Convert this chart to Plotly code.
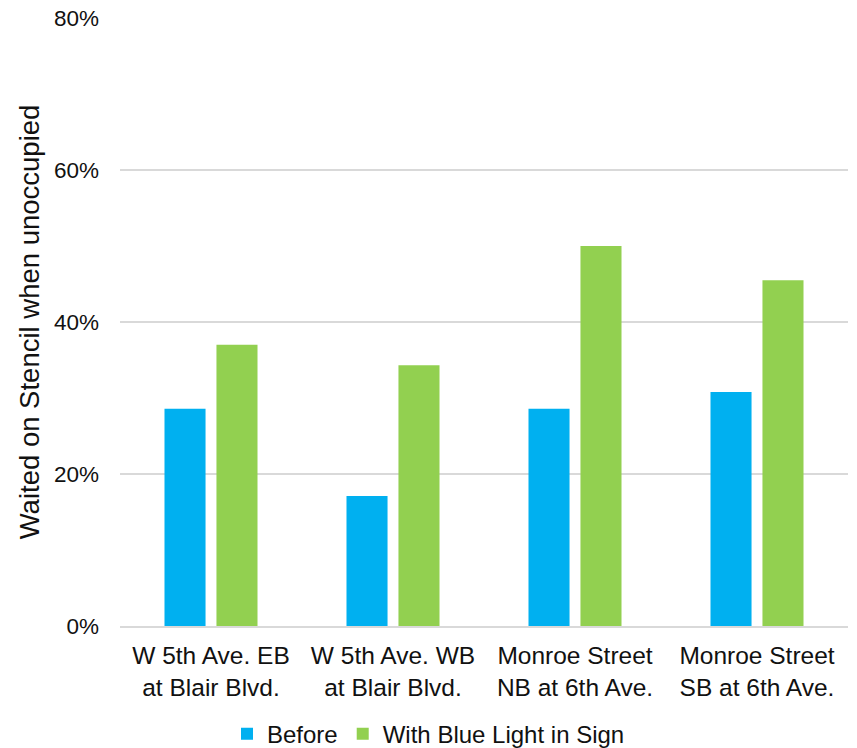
import plotly.graph_objects as go

categories = ["W 5th Ave. EB<br>at Blair Blvd.", "W 5th Ave. WB<br>at Blair Blvd.",
              "Monroe Street<br>NB at 6th Ave.", "Monroe Street<br>SB at 6th Ave."]
before = [0.286, 0.171, 0.286, 0.308]
with_blue = [0.370, 0.343, 0.500, 0.455]
y_ticks = [0, 0.2, 0.4, 0.6, 0.8]

FONT = "Liberation Sans, Arial, sans-serif"

fig = go.Figure()
fig.add_trace(go.Bar(x=categories, y=before, name="Before", marker=dict(color="#00B0F0", line=dict(width=0))))
fig.add_trace(go.Bar(x=categories, y=with_blue, name="With Blue Light in Sign", marker=dict(color="#92D050", line=dict(width=0))))

fig.update_layout(
    width=857, height=748,
    margin=dict(l=120, r=9, t=18, b=122, autoexpand=False),
    paper_bgcolor="white", plot_bgcolor="white",
    barmode="group", bargap=0.429, bargroupgap=0.21,
    font=dict(family=FONT, size=22, color="#111111"),
    showlegend=True,
    legend=dict(orientation="h", x=0.5, xref="container", xanchor="center",
                y=-0.178, yref="paper", yanchor="middle",
                font=dict(size=24), itemwidth=30, traceorder="normal"),
    xaxis=dict(showline=True, linecolor="#d9d9d9", linewidth=1.5, ticks="", showgrid=False,
               tickfont=dict(size=24.5), ticklabelstandoff=7, automargin=False),
    yaxis=dict(range=[0, 0.8], tickvals=y_ticks, tickformat=".0%", showgrid=True,
               gridcolor="#d9d9d9", gridwidth=1.5, zeroline=False, showline=False,
               ticks="", ticklabelstandoff=20, tickfont=dict(size=22.5), automargin=False,
               title=dict(text="Waited on Stencil when unoccupied", font=dict(size=27.5), standoff=6)),
)

fig.write_html("out.html")
